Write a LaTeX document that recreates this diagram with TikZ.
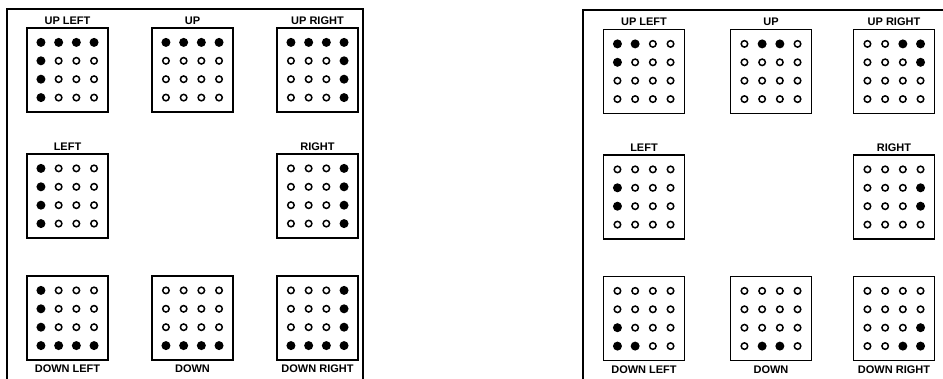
\documentclass[tikz,border=0pt]{standalone}
\usepackage{fontspec}
\setmainfont{Liberation Sans}
\usetikzlibrary{positioning}

\tikzset{
  panel/.style={line width=1.3pt},
  ledbox/.style={draw, line width=1.3pt, minimum width=81pt, minimum height=84pt, inner sep=0pt},
  led0/.style={circle, draw, line width=1.5pt, minimum size=6.5pt, inner sep=0pt},
  led1/.style={circle, fill, minimum size=9pt, inner sep=0pt},
  lbl/.style={inner sep=0pt, font=\fontsize{11}{13}\selectfont\bfseries},
}

% #1 nombre, #2 centro, #3 leds fila por fila (1 = encendido)
\newcommand{\matriz}[3]{%
  \node[ledbox] (#1) at (#2) {};
  \foreach \b [count=\i from 0] in {#3} {
    \pgfmathtruncatemacro{\ledcol}{mod(\i,4)}
    \pgfmathtruncatemacro{\ledrow}{div(\i,4)}
    \node[led\b] (#1-\i) at ([shift={(\ledcol*17.7-26.55,\ledrow*18.4-27.6)}]#1) {};
  }%
}

\begin{document}
\begin{tikzpicture}[x=1pt, y=-1pt]
  \useasboundingbox (0,0) rectangle (943,379);

  % Panel izquierdo
  \draw[panel] (7,379) -- (7,9) -- (363,9) -- (363,379);
  \matriz{a-ul}{67.5,70}{1,1,1,1, 1,0,0,0, 1,0,0,0, 1,0,0,0}
  \matriz{a-u}{192.5,70}{1,1,1,1, 0,0,0,0, 0,0,0,0, 0,0,0,0}
  \matriz{a-ur}{317.5,70}{1,1,1,1, 0,0,0,1, 0,0,0,1, 0,0,0,1}
  \matriz{a-l}{67.5,196}{1,0,0,0, 1,0,0,0, 1,0,0,0, 1,0,0,0}
  \matriz{a-r}{317.5,196}{0,0,0,1, 0,0,0,1, 0,0,0,1, 0,0,0,1}
  \matriz{a-dl}{67.5,318}{1,0,0,0, 1,0,0,0, 1,0,0,0, 1,1,1,1}
  \matriz{a-d}{192.5,318}{0,0,0,0, 0,0,0,0, 0,0,0,0, 1,1,1,1}
  \matriz{a-dr}{317.5,318}{0,0,0,1, 0,0,0,1, 0,0,0,1, 1,1,1,1}

  \node[lbl, above=3pt of a-ul] (a-ul-t) {UP LEFT};
  \node[lbl, above=3pt of a-u] (a-u-t) {UP};
  \node[lbl, above=3pt of a-ur] (a-ur-t) {UP RIGHT};
  \node[lbl, above=3pt of a-l] (a-l-t) {LEFT};
  \node[lbl, above=3pt of a-r] (a-r-t) {RIGHT};
  \node[lbl, below=4pt of a-dl] (a-dl-t) {DOWN LEFT};
  \node[lbl, below=4pt of a-d] (a-d-t) {DOWN};
  \node[lbl, below=4pt of a-dr] (a-dr-t) {DOWN RIGHT};

  % Panel derecho
  \draw[panel] (583,379) -- (583,10) -- (943,10);
  \matriz{b-ul}{644,71.5}{1,1,0,0, 1,0,0,0, 0,0,0,0, 0,0,0,0}
  \matriz{b-u}{771,71.5}{0,1,1,0, 0,0,0,0, 0,0,0,0, 0,0,0,0}
  \matriz{b-ur}{894,71.5}{0,0,1,1, 0,0,0,1, 0,0,0,0, 0,0,0,0}
  \matriz{b-l}{644,197}{0,0,0,0, 1,0,0,0, 1,0,0,0, 0,0,0,0}
  \matriz{b-r}{894,197}{0,0,0,0, 0,0,0,1, 0,0,0,1, 0,0,0,0}
  \matriz{b-dl}{644,318.5}{0,0,0,0, 0,0,0,0, 1,0,0,0, 1,1,0,0}
  \matriz{b-d}{771,318.5}{0,0,0,0, 0,0,0,0, 0,0,0,0, 0,1,1,0}
  \matriz{b-dr}{894,318.5}{0,0,0,0, 0,0,0,0, 0,0,0,1, 0,0,1,1}

  \node[lbl, above=3pt of b-ul] (b-ul-t) {UP LEFT};
  \node[lbl, above=3pt of b-u] (b-u-t) {UP};
  \node[lbl, above=3pt of b-ur] (b-ur-t) {UP RIGHT};
  \node[lbl, above=3pt of b-l] (b-l-t) {LEFT};
  \node[lbl, above=3pt of b-r] (b-r-t) {RIGHT};
  \node[lbl, below=4pt of b-dl] (b-dl-t) {DOWN LEFT};
  \node[lbl, below=4pt of b-d] (b-d-t) {DOWN};
  \node[lbl, below=4pt of b-dr] (b-dr-t) {DOWN RIGHT};
\end{tikzpicture}
\end{document}
